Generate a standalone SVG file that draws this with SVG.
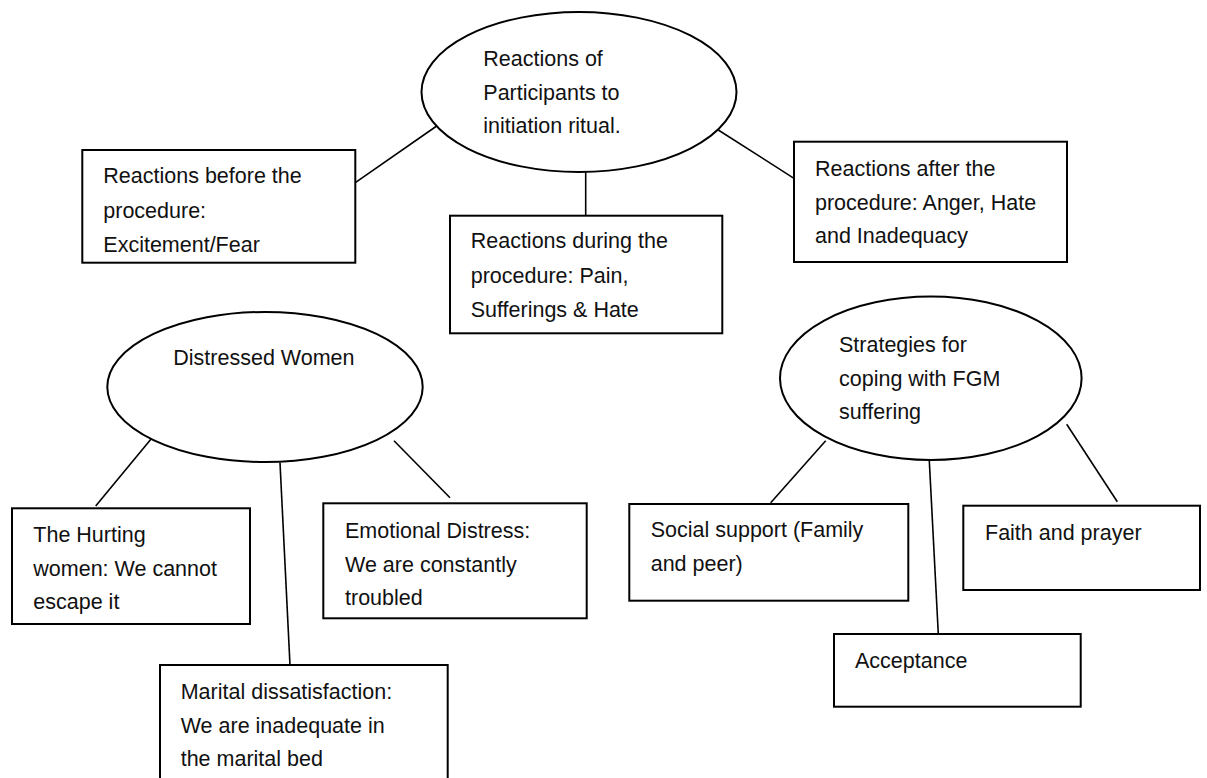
<svg xmlns="http://www.w3.org/2000/svg" width="1207" height="778" viewBox="0 0 1207 778">
<style>
.shape{fill:#fff;stroke:#000;stroke-width:2}
.con line{stroke:#000;stroke-width:1.6}
text{font-family:"Liberation Sans",Arial,sans-serif;font-size:21.5px;fill:#111}
</style>
<rect width="1207" height="778" fill="#fff"/>
<g id="connectors" class="con">
<line x1="436.7" y1="126" x2="355.3" y2="182.7"/>
<line x1="585.7" y1="171.7" x2="585.7" y2="215.7"/>
<line x1="718.3" y1="130" x2="794" y2="178.3"/>
<line x1="155" y1="434.3" x2="95.7" y2="506"/>
<line x1="280" y1="462.7" x2="290" y2="665"/>
<line x1="394" y1="440.7" x2="450" y2="497.7"/>
<line x1="825.7" y1="440.7" x2="770.7" y2="502.7"/>
<line x1="929.3" y1="460.7" x2="938.3" y2="634"/>
<line x1="1066.7" y1="424.3" x2="1117.3" y2="501.7"/>
</g>
<g id="n-reactions">
<ellipse class="shape" cx="579" cy="92" rx="157.5" ry="80"/>
<text x="483.3" y="66">Reactions of</text>
<text x="483.3" y="100">Participants to</text>
<text x="483.3" y="133.3">initiation ritual.</text>
</g>
<g id="n-before">
<rect class="shape" x="82.3" y="150" width="273" height="112.7"/>
<text x="103.3" y="183.3">Reactions before the</text>
<text x="103.3" y="217.5">procedure:</text>
<text x="103.3" y="251.7">Excitement/Fear</text>
</g>
<g id="n-during">
<rect class="shape" x="450" y="215.7" width="272.3" height="117.6"/>
<text x="470.7" y="248.3">Reactions during the</text>
<text x="470.7" y="282.5">procedure: Pain,</text>
<text x="470.7" y="316.7">Sufferings &amp; Hate</text>
</g>
<g id="n-after">
<rect class="shape" x="794" y="141.7" width="273" height="120.3"/>
<text x="815" y="175.7">Reactions after the</text>
<text x="815" y="209.5">procedure: Anger, Hate</text>
<text x="815" y="243.3">and Inadequacy</text>
</g>
<g id="n-distressed">
<ellipse class="shape" cx="265" cy="387" rx="157.7" ry="75"/>
<text x="173.3" y="365">Distressed Women</text>
</g>
<g id="n-hurting">
<rect class="shape" x="12" y="508.3" width="238" height="115.7"/>
<text x="33.3" y="541.7">The Hurting</text>
<text x="33.3" y="575.5">women: We cannot</text>
<text x="33.3" y="609.3">escape it</text>
</g>
<g id="n-emotional">
<rect class="shape" x="323.3" y="503.3" width="263.4" height="115"/>
<text x="345" y="538.3">Emotional Distress:</text>
<text x="345" y="571.7">We are constantly</text>
<text x="345" y="605">troubled</text>
</g>
<g id="n-marital">
<rect class="shape" x="160" y="665" width="287.7" height="130"/>
<text x="180.7" y="699.3">Marital dissatisfaction:</text>
<text x="180.7" y="732.5">We are inadequate in</text>
<text x="180.7" y="765.7">the marital bed</text>
</g>
<g id="n-strategies">
<ellipse class="shape" cx="930.8" cy="378.3" rx="150.8" ry="81.7"/>
<text x="839" y="352.3">Strategies for</text>
<text x="839" y="385.5">coping with FGM</text>
<text x="839" y="419.3">suffering</text>
</g>
<g id="n-social">
<rect class="shape" x="629.3" y="504" width="279" height="96.7"/>
<text x="650.7" y="537.3">Social support (Family</text>
<text x="650.7" y="570.7">and peer)</text>
</g>
<g id="n-faith">
<rect class="shape" x="963.3" y="505.7" width="236.7" height="84.3"/>
<text x="985" y="540">Faith and prayer</text>
</g>
<g id="n-acceptance">
<rect class="shape" x="834" y="634" width="246.7" height="72.7"/>
<text x="855" y="668.3">Acceptance</text>
</g>
</svg>
